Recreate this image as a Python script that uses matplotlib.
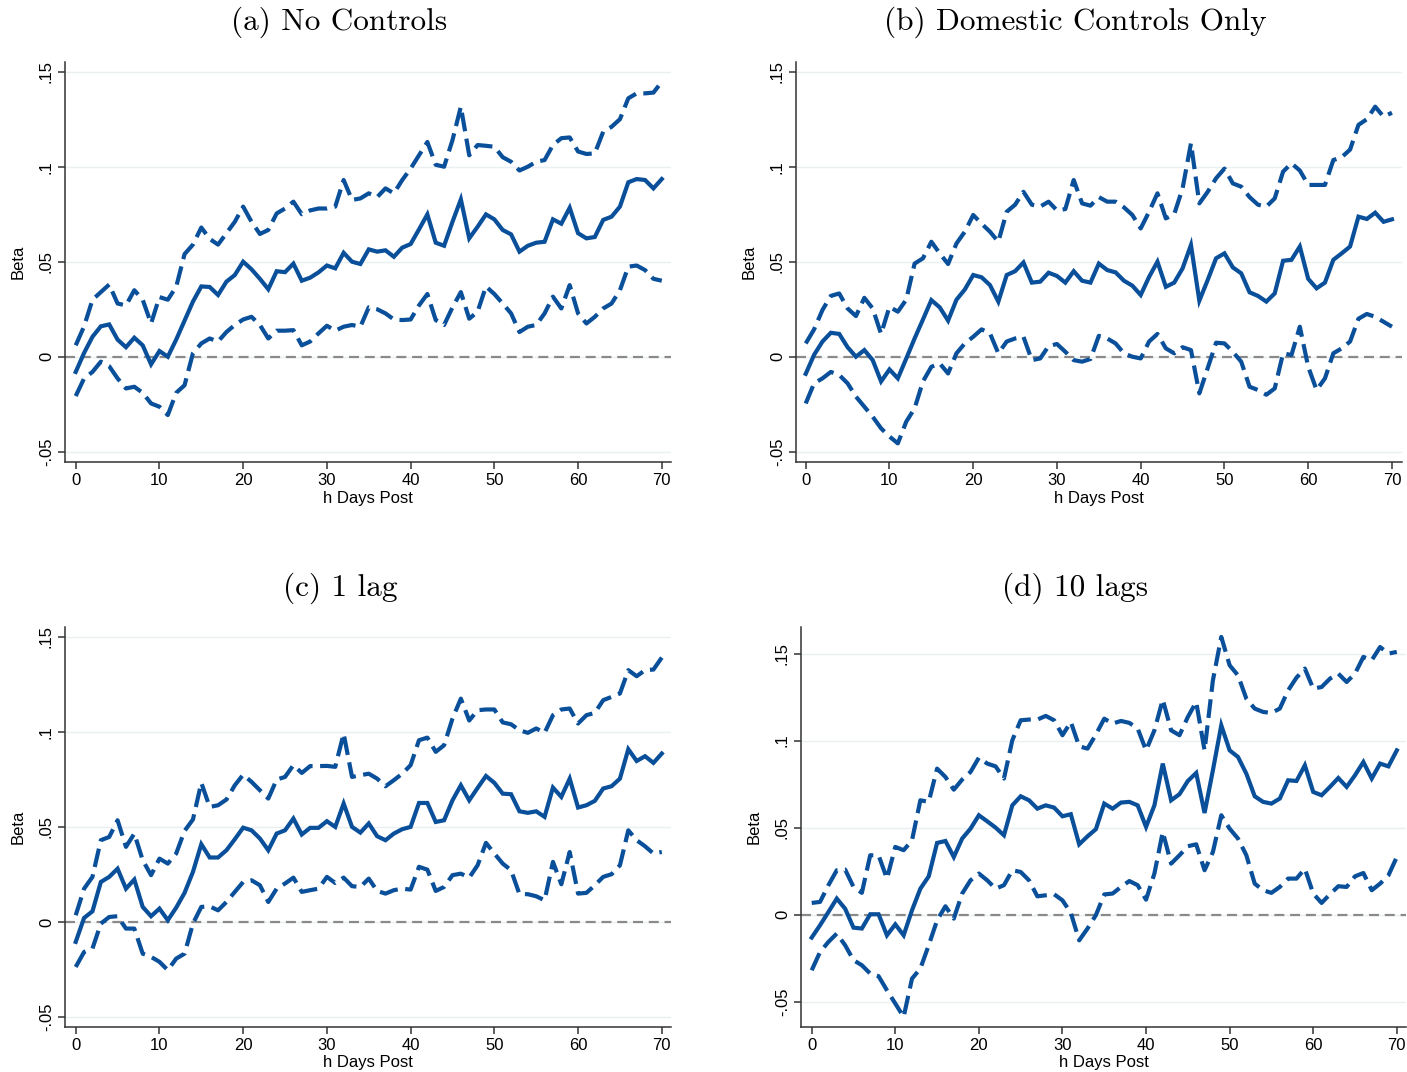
import matplotlib
matplotlib.use("Agg")
import matplotlib.pyplot as plt
import numpy as np

# horizon in days
h_days = list(range(71))

# (a) No Controls
a_beta = [-0.008, 0.002, 0.0105, 0.016, 0.017, 0.009, 0.005, 0.010, 0.006, -0.004,
          0.003, 0.0, 0.009, 0.019, 0.029, 0.037, 0.0367, 0.0325, 0.0395, 0.043,
          0.050, 0.046, 0.041, 0.0355, 0.045, 0.0445, 0.049, 0.040, 0.0416, 0.0444,
          0.048, 0.0465, 0.0547, 0.050, 0.0488, 0.0565, 0.0553, 0.056, 0.0526, 0.0574,
          0.0593, 0.067, 0.0749, 0.060, 0.0584, 0.071, 0.0828, 0.0623, 0.0684, 0.0749,
          0.0723, 0.0667, 0.0644, 0.0553, 0.0584, 0.060, 0.0605, 0.0723, 0.070, 0.0784,
          0.065, 0.0623, 0.063, 0.072, 0.0737, 0.079, 0.0918, 0.0935, 0.093, 0.0886, 0.0935]
a_upper = [0.006, 0.016, 0.030, 0.034, 0.038, 0.028, 0.027, 0.035, 0.030, 0.0175,
           0.0314, 0.030, 0.0368, 0.054, 0.059, 0.068, 0.062, 0.059, 0.065, 0.071,
           0.079, 0.071, 0.0646, 0.0667, 0.0754, 0.078, 0.0816, 0.075, 0.077, 0.078,
           0.078, 0.079, 0.093, 0.0825, 0.0833, 0.086, 0.084, 0.0886, 0.086, 0.093,
           0.099, 0.106, 0.113, 0.101, 0.100, 0.114, 0.1316, 0.106, 0.1114, 0.111,
           0.1105, 0.105, 0.1026, 0.098, 0.100, 0.1026, 0.1035, 0.1114, 0.115, 0.1154,
           0.108, 0.1067, 0.107, 0.1184, 0.121, 0.125, 0.136, 0.1386, 0.1386, 0.139, 0.1447]
a_lower = [-0.0207, -0.0114, -0.008, -0.0026, -0.005, -0.0114, -0.0167, -0.0158, -0.019, -0.0246,
           -0.0263, -0.0307, -0.019, -0.015, 0.0018, 0.007, 0.0096, 0.008, 0.013, 0.0167,
           0.0196, 0.021, 0.0167, 0.0096, 0.0137, 0.0137, 0.014, 0.006, 0.008, 0.0123,
           0.0163, 0.0137, 0.0158, 0.0167, 0.0158, 0.026, 0.025, 0.0228, 0.0196, 0.0193,
           0.0196, 0.027, 0.033, 0.0193, 0.0167, 0.026, 0.034, 0.020, 0.0237, 0.037,
           0.033, 0.028, 0.0228, 0.013, 0.0158, 0.0167, 0.0228, 0.0316, 0.0254, 0.0377,
           0.0228, 0.0175, 0.021, 0.0254, 0.028, 0.035, 0.0474, 0.048, 0.0456, 0.041, 0.040]

# (b) Domestic Controls Only
b_beta = [-0.009, 0.001, 0.008, 0.0126, 0.012, 0.005, 0.0, 0.0035, -0.0018, -0.013,
          -0.0067, -0.0114, -0.001, 0.0096, 0.0196, 0.0298, 0.026, 0.019, 0.030, 0.0354,
          0.043, 0.0418, 0.0377, 0.029, 0.043, 0.045, 0.0496, 0.039, 0.0395, 0.0442,
          0.0425, 0.039, 0.045, 0.040, 0.039, 0.049, 0.0456, 0.0444, 0.040, 0.0374,
          0.0325, 0.042, 0.050, 0.0368, 0.039, 0.0465, 0.0588, 0.0295, 0.0404, 0.0518,
          0.0544, 0.047, 0.0439, 0.0339, 0.032, 0.029, 0.0333, 0.0505, 0.051, 0.058,
          0.041, 0.036, 0.039, 0.051, 0.0544, 0.058, 0.0737, 0.0725, 0.0758, 0.071, 0.0723]
b_upper = [0.007, 0.0144, 0.0246, 0.032, 0.0333, 0.0254, 0.0214, 0.031, 0.0254, 0.012,
           0.0263, 0.0237, 0.030, 0.049, 0.0518, 0.0605, 0.0544, 0.0488, 0.0596, 0.0658,
           0.0746, 0.070, 0.0658, 0.0605, 0.0763, 0.080, 0.0868, 0.080, 0.079, 0.0816,
           0.077, 0.0777, 0.093, 0.0807, 0.0795, 0.084, 0.0816, 0.0816, 0.0786, 0.0746,
           0.0675, 0.0763, 0.086, 0.0728, 0.075, 0.0886, 0.1123, 0.0807, 0.0868, 0.0939,
           0.099, 0.0912, 0.0895, 0.084, 0.080, 0.079, 0.0833, 0.0974, 0.1018, 0.098,
           0.0904, 0.0904, 0.0904, 0.1035, 0.105, 0.109, 0.122, 0.125, 0.1316, 0.1263, 0.1284]
b_lower = [-0.0246, -0.014, -0.0114, -0.008, -0.0096, -0.014, -0.021, -0.0263, -0.0316, -0.0377,
           -0.042, -0.0456, -0.0342, -0.0272, -0.013, -0.0053, -0.0035, -0.0088, 0.0018, 0.007,
           0.0105, 0.0144, 0.0123, 0.0018, 0.008, 0.0096, 0.0105, -0.0018, -0.0009, 0.0056,
           0.0067, 0.0026, -0.0018, -0.0026, -0.0012, 0.011, 0.0096, 0.007, 0.0018, 0.0,
           -0.0009, 0.008, 0.012, 0.0044, 0.0018, 0.005, 0.0035, -0.0193, -0.006, 0.0074,
           0.007, 0.0026, -0.0026, -0.0158, -0.0175, -0.020, -0.0167, 0.0018, 0.0009, 0.0158,
           -0.0053, -0.0175, -0.0114, 0.0018, 0.0044, 0.008, 0.020, 0.0225, 0.021, 0.0184, 0.0158]

# (c) 1 lag
c_beta = [-0.0105, 0.0021, 0.0056, 0.021, 0.0237, 0.028, 0.0175, 0.0223, 0.0079, 0.003,
          0.007, 0.0009, 0.0075, 0.0153, 0.0263, 0.0409, 0.0339, 0.0339, 0.0377, 0.0435,
          0.0496, 0.0482, 0.0439, 0.0377, 0.0465, 0.0482, 0.0544, 0.046, 0.0495, 0.0495,
          0.053, 0.050, 0.0623, 0.050, 0.047, 0.0518, 0.0451, 0.043, 0.0465, 0.0488,
          0.050, 0.0626, 0.0626, 0.0526, 0.0535, 0.064, 0.0719, 0.064, 0.0705, 0.0768,
          0.0732, 0.0675, 0.0672, 0.0582, 0.0574, 0.0582, 0.0553, 0.0707, 0.0658, 0.0754,
          0.0602, 0.0614, 0.0637, 0.0702, 0.0714, 0.0754, 0.0909, 0.0847, 0.0872, 0.0837, 0.0886]
c_upper = [0.0035, 0.0175, 0.0237, 0.043, 0.0447, 0.0535, 0.0395, 0.0465, 0.0325, 0.0246,
           0.0333, 0.0307, 0.036, 0.0479, 0.0539, 0.0732, 0.0605, 0.0614, 0.0644, 0.0719,
           0.0775, 0.0737, 0.0693, 0.0649, 0.0749, 0.0763, 0.0825, 0.0784, 0.082, 0.082,
           0.0821, 0.0816, 0.0991, 0.0763, 0.0772, 0.078, 0.0754, 0.0714, 0.0746, 0.078,
           0.0825, 0.0956, 0.097, 0.0895, 0.093, 0.107, 0.1175, 0.106, 0.1114, 0.1118,
           0.1118, 0.105, 0.104, 0.1009, 0.0995, 0.1018, 0.0995, 0.1088, 0.1118, 0.1123,
           0.1044, 0.1088, 0.110, 0.1167, 0.1184, 0.1202, 0.1325, 0.1293, 0.1325, 0.1328, 0.1391]
c_lower = [-0.0237, -0.0158, -0.014, -0.0009, 0.0026, 0.003, -0.0035, -0.0035, -0.0167, -0.0184,
           -0.021, -0.0254, -0.0193, -0.0167, -0.0009, 0.0079, 0.0082, 0.0061, 0.0105, 0.0158,
           0.021, 0.0219, 0.0193, 0.0105, 0.0175, 0.0202, 0.0233, 0.0158, 0.0167, 0.0175,
           0.0237, 0.0205, 0.0233, 0.0188, 0.0184, 0.0228, 0.0163, 0.0149, 0.0167, 0.0175,
           0.017, 0.029, 0.0275, 0.0163, 0.0184, 0.0246, 0.0254, 0.0233, 0.0298, 0.0416,
           0.036, 0.0307, 0.0272, 0.0146, 0.0146, 0.0135, 0.0114, 0.0316, 0.0198, 0.0368,
           0.0149, 0.0153, 0.0193, 0.0237, 0.0251, 0.0298, 0.0482, 0.043, 0.0398, 0.036, 0.0368]

# (d) 10 lags
d_beta = [-0.0132, -0.0061, 0.0015, 0.0092, 0.0034, -0.0075, -0.008, 0.0002, 0.0002, -0.0119,
          -0.0056, -0.0119, 0.0025, 0.0149, 0.022, 0.0412, 0.0423, 0.0331, 0.0437, 0.0494,
          0.0571, 0.0536, 0.050, 0.0456, 0.0628, 0.068, 0.0657, 0.0609, 0.0628, 0.0615,
          0.0565, 0.0577, 0.0404, 0.045, 0.0491, 0.0638, 0.0609, 0.0644, 0.0648, 0.0628,
          0.0504, 0.0628, 0.0868, 0.0657, 0.0692, 0.0768, 0.0814, 0.0584, 0.083, 0.1088,
          0.0944, 0.0906, 0.081, 0.068, 0.0648, 0.0638, 0.0667, 0.0772, 0.0768, 0.0858,
          0.0705, 0.0686, 0.0734, 0.0785, 0.0734, 0.0801, 0.0877, 0.0782, 0.0868, 0.0852, 0.0944]
d_upper = [0.0067, 0.0073, 0.0169, 0.0255, 0.0259, 0.0159, 0.0125, 0.0341, 0.0341, 0.0207,
           0.0389, 0.037, 0.0427, 0.0657, 0.0648, 0.0839, 0.0791, 0.0718, 0.0776, 0.082,
           0.0902, 0.0868, 0.0852, 0.0782, 0.1002, 0.1117, 0.1121, 0.1121, 0.1142, 0.1117,
           0.1031, 0.1107, 0.0967, 0.0954, 0.1035, 0.1126, 0.1098, 0.1113, 0.1102, 0.1069,
           0.0944, 0.1059, 0.1236, 0.1059, 0.1031, 0.1136, 0.1222, 0.0944, 0.1347, 0.1596,
           0.1433, 0.1375, 0.1241, 0.1184, 0.1165, 0.1159, 0.1184, 0.1289, 0.1362, 0.1414,
           0.1299, 0.1308, 0.1356, 0.1385, 0.1337, 0.1385, 0.1481, 0.1462, 0.1538, 0.150, 0.151]
d_lower = [-0.032, -0.0215, -0.0157, -0.0109, -0.0176, -0.0262, -0.0291, -0.0339, -0.0354, -0.0435,
           -0.0511, -0.0588, -0.0368, -0.031, -0.0176, -0.0033, 0.0048, -0.0023, 0.0121, 0.0197,
           0.0236, 0.0197, 0.0149, 0.0169, 0.0255, 0.0245, 0.0197, 0.0105, 0.0111, 0.0117,
           0.0082, 0.001, -0.0148, -0.008, -0.0003, 0.0116, 0.0121, 0.0159, 0.0193, 0.0169,
           0.0086, 0.0236, 0.0475, 0.0293, 0.0341, 0.0393, 0.0404, 0.0255, 0.036, 0.0571,
           0.0494, 0.0437, 0.0341, 0.0178, 0.014, 0.0125, 0.0159, 0.0207, 0.0207, 0.0264,
           0.0121, 0.0067, 0.0117, 0.0163, 0.0159, 0.022, 0.0239, 0.014, 0.0178, 0.0226, 0.0331]

titles = ["(a) No Controls", "(b) Domestic Controls Only", "(c) 1 lag", "(d) 10 lags"]
ytick_vals = [-0.05, 0, 0.05, 0.1, 0.15]
ytick_labels = ["-.05", "0", ".05", ".1", ".15"]
xtick_vals = [0, 10, 20, 30, 40, 50, 60, 70]

W, H = 1407, 1072
navy = "#0a4f9a"
sans = ["Liberation Sans", "DejaVu Sans"]

# pixel boxes: left, top, right, bottom ; then axis limits and title centre
panels = [
    (a_beta, a_upper, a_lower, (65, 62, 671, 462), (-1.28, 71.1), (-0.0554, 0.1551), (339, 22)),
    (b_beta, b_upper, b_lower, (796, 62, 1402, 462), (-1.16, 71.2), (-0.0554, 0.1551), (1075, 22)),
    (c_beta, c_upper, c_lower, (65, 627, 671, 1027), (-1.28, 71.1), (-0.0553, 0.1552), (340, 588)),
    (d_beta, d_upper, d_lower, (801, 627, 1406, 1027), (-1.28, 71.1), (-0.0646, 0.1653), (1075, 588)),
]

fig = plt.figure(figsize=(W / 100, H / 100), dpi=100)

for i, (beta, upper, lower, box, xl, yl, tpos) in enumerate(panels):
    l, t, r, b = box
    ax = fig.add_axes([l / W, 1 - b / H, (r - l) / W, (b - t) / H])
    ax.set_xlim(*xl)
    ax.set_ylim(*yl)

    # grid and zero line
    for v in ytick_vals:
        ax.axhline(v, color="#eaf0f1", lw=1.0, zorder=0)
    ax.axhline(0, color="#8a8a8a", lw=1.6, linestyle=(0, (4.5, 2.6)), zorder=1)

    ax.plot(h_days, upper, color=navy, lw=3.0, linestyle=(0, (4.5, 1.8)), zorder=2)
    ax.plot(h_days, lower, color=navy, lw=3.0, linestyle=(0, (4.5, 1.8)), zorder=2)
    ax.plot(h_days, beta, color=navy, lw=3.0, solid_joinstyle="miter", zorder=3)

    for side in ["top", "right"]:
        ax.spines[side].set_visible(False)
    for side in ["left", "bottom"]:
        ax.spines[side].set_color("#333333")
        ax.spines[side].set_linewidth(1.1)

    ax.set_yticks(ytick_vals)
    ax.set_yticklabels(ytick_labels, rotation=90, va="center", family=sans, fontsize=12)
    ax.set_xticks(xtick_vals)
    ax.set_xticklabels([str(v) for v in xtick_vals], family=sans, fontsize=12)
    ax.tick_params(axis="both", length=5, width=1.1, color="#333333", pad=3)

    cx = (l + r) / 2
    cy = (t + b) / 2
    fig.text(cx / W, 1 - (b + 36) / H, "h Days Post", ha="center", va="center",
             family=sans, fontsize=12)
    fig.text((l - 47) / W, 1 - cy / H, "Beta", rotation=90, ha="center", va="center",
             family=sans, fontsize=12)
    fig.text(tpos[0] / W, 1 - tpos[1] / H, titles[i], ha="center", va="center",
             family=["cmr10", "DejaVu Serif"], fontsize=22.5)

fig.savefig("out.png", dpi=100)
